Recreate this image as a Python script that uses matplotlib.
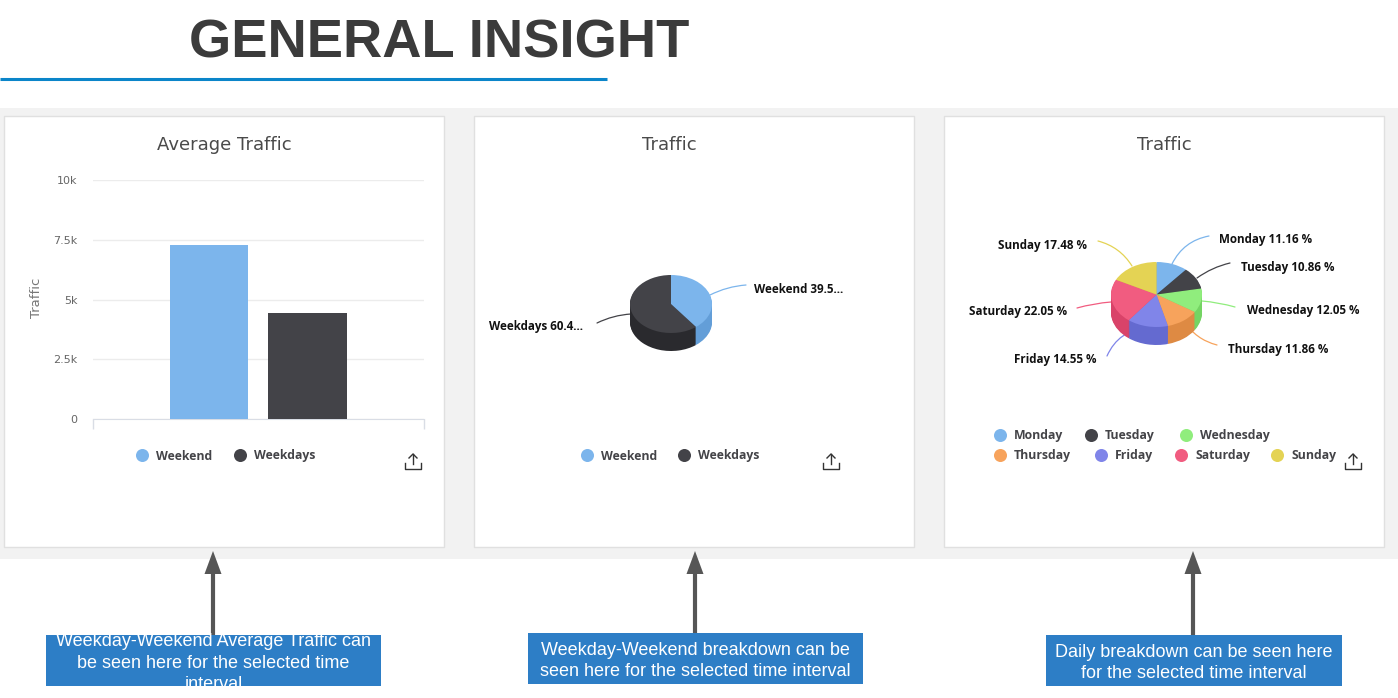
import matplotlib
matplotlib.use("Agg")
import matplotlib.pyplot as plt
from matplotlib.patches import Rectangle, Polygon

W, H = 1398, 698
DPI = 100

page_title = "GENERAL INSIGHT"
bar_categories = ["Weekend", "Weekdays"]
bar_values = [7280, 4440]
y_ticks = [0, 2500, 5000, 7500, 10000]
y_tick_labels = ["0", "2.5k", "5k", "7.5k", "10k"]

split_names = ["Weekend", "Weekdays"]
split_values = [39.55, 60.45]
split_labels = ["Weekend 39.5...", "Weekdays 60.4..."]

day_names = ["Monday", "Tuesday", "Wednesday", "Thursday", "Friday", "Saturday", "Sunday"]
day_values = [11.16, 10.86, 12.05, 11.86, 14.55, 22.05, 17.48]
day_labels = [f"{n} {v:.2f} %" for n, v in zip(day_names, day_values)]

captions = [
    "Weekday-Weekend Average Traffic can\nbe seen here for the selected time\ninterval",
    "Weekday-Weekend breakdown can be\nseen here for the selected time interval",
    "Daily breakdown can be seen here\nfor the selected time interval",
]

TOP = ["#7cb5ec", "#434348", "#90ed7d", "#f7a35c", "#8085e9", "#f15c80", "#e4d354"]
SIDE = ["#639ed8", "#2a2a2e", "#74d463", "#de8a43", "#646ad0", "#d94369", "#cbba3b"]
LABEL_FONT = "DejaVu Sans"
SMALL_FONT = "Open Sans"

fig = plt.figure(figsize=(W / DPI, H / DPI), dpi=DPI, facecolor="white")


def px_axes(x0, y0, x1, y1, zorder=1):
    return fig.add_axes([x0 / W, 1 - y1 / H, (x1 - x0) / W, (y1 - y0) / H], zorder=zorder)


bg = fig.add_axes([0, 0, 1, 1], zorder=0)
bg.set_xlim(0, W)
bg.set_ylim(H, 0)
bg.axis("off")

bg.text(439, 43, page_title, ha="center", va="center", fontsize=39.2, fontweight="bold",
        family="Liberation Sans", color="#3b3b3b")
bg.plot([0, 607], [79, 79], color="#0b85c9", lw=2.2, solid_capstyle="butt")
bg.add_patch(Rectangle((0, 108), W, 451, fc="#f2f2f2", ec="none"))

card_left = [4, 474, 944]
card_titles = ["Average Traffic", "Traffic", "Traffic"]
title_x = [224, 669, 1164]
for x, t, tx in zip(card_left, card_titles, title_x):
    bg.add_patch(Rectangle((x, 116), 440, 431, fc="white", ec="#e0e0e0", lw=1))
    bg.text(tx, 145, t, ha="center", va="center", fontsize=13, family=LABEL_FONT, color="#4a4a4a")


# ---- bar chart ----
ax = px_axes(93, 180, 424, 419)
ax.patch.set_alpha(0)
ax.bar([0, 1], bar_values, width=0.797, color=TOP[:2], zorder=3)
ax.set_xlim(-1.178, 2.183)
ax.set_ylim(0, 10000)
ax.set_yticks(y_ticks, y_tick_labels, fontsize=8, color="#666666", family=LABEL_FONT)
ax.set_xticks([-1.178, 2.183], ["", ""])
ax.tick_params(axis="y", length=0, pad=11)
ax.tick_params(axis="x", length=7, width=1, color="#d9dde5")
ax.grid(axis="y", color="#ececec", lw=1, zorder=0)
for s in ["top", "left", "right"]:
    ax.spines[s].set_visible(False)
ax.spines["bottom"].set_color("#d9dde5")
bg.text(37, 298, "Traffic", rotation=90, ha="center", va="center", fontsize=9.5,
        family=LABEL_FONT, color="#777777")


# ---- 3D-looking pies: stacked darker layers, then the top face ----
def pie3d(values, colors, sides, cx, cy, rx, ry, depth):
    a = px_axes(cx - rx, cy - ry, cx + rx, cy + ry + depth)
    a.patch.set_alpha(0)
    unit = 1 / ry
    for d in range(int(depth), 0, -1):
        a.pie(values, colors=sides, startangle=90, counterclock=False, radius=1,
              center=(0, -d * unit), wedgeprops={"lw": 0}, frame=False)
    a.pie(values, colors=colors, startangle=90, counterclock=False, radius=1,
          center=(0, 0), wedgeprops={"lw": 0}, frame=False)
    a.set_aspect("auto")
    a.set_xlim(-1, 1)
    a.set_ylim(-1 - depth * unit, 1)
    a.axis("off")


pie3d(split_values, TOP[:2], SIDE[:2], 671, 304, 41, 29, 18)
pie3d(day_values, TOP, SIDE, 1156.5, 294.5, 45.5, 32.5, 18.5)


def leader(start, end, color, rad):
    bg.annotate("", xy=end, xytext=start,
                arrowprops=dict(arrowstyle="-", color=color, lw=0.9,
                                connectionstyle=f"arc3,rad={rad}", shrinkA=0, shrinkB=0))


def label(x, y, s, ha="left"):
    bg.text(x, y + 1.5, s, ha=ha, va="center", fontsize=8.4, fontweight="bold",
            family=SMALL_FONT, color="#111111")


# split pie labels
leader((710, 295), (746, 285), TOP[0], -0.1)
leader((631, 314), (597, 323), TOP[1], 0.1)
label(754, 288, split_labels[0])
label(489, 325, split_labels[1])

# daily pie labels
day_leaders = [
    ((1172, 264), (1209, 236), -0.25),
    ((1197, 278), (1230, 263), -0.1),
    ((1202, 301), (1235, 307), -0.05),
    ((1184, 321), (1217, 345), 0.2),
    ((1147, 328), (1107, 356), 0.3),
    ((1111, 302), (1077, 308), 0.05),
    ((1132, 266), (1098, 241), 0.2),
]
label_pos = [(1219, 238, "left"), (1241, 266, "left"), (1247, 309, "left"), (1228, 348, "left"),
             (1096, 358, "right"), (1067, 310, "right"), (1087, 244, "right")]
for i, (s, e, r) in enumerate(day_leaders):
    leader(s, e, TOP[i], r)
    label(label_pos[i][0], label_pos[i][1], day_labels[i], ha=label_pos[i][2])


# ---- legends ----
def legend_item(x, y, name, color):
    bg.scatter([x], [y], s=88, color=color, linewidths=0, zorder=3)
    bg.text(x + 14, y + 1, name, ha="left", va="center", fontsize=8.8, fontweight="bold",
            family=SMALL_FONT, color="#444448")


legend_bar = [(142, 455), (240, 455)]
legend_split = [(587, 455), (684, 455)]
legend_day = [(1000, 435), (1091, 435), (1186, 435), (1000, 455), (1101, 455), (1181, 455), (1277, 455)]
for (x, y), n, c in zip(legend_bar, bar_categories, TOP):
    legend_item(x, y, n, c)
for (x, y), n, c in zip(legend_split, split_names, TOP):
    legend_item(x, y, n, c)
for (x, y), n, c in zip(legend_day, day_names, TOP):
    legend_item(x, y, n, c)


# ---- export icons ----
for x in [413, 831, 1353]:
    y = 461
    bg.plot([x - 8, x - 8, x + 8, x + 8], [y + 2, y + 8, y + 8, y + 2], color="#333333", lw=1)
    bg.plot([x, x], [y + 3, y - 7], color="#333333", lw=1)
    bg.plot([x - 4, x, x + 4], [y - 3, y - 7, y - 3], color="#333333", lw=1)


# ---- arrows and caption boxes ----
arrow_x = [213, 695, 1193]
boxes = [(46, 635, 335, 51), (528, 633, 335, 51), (1046, 635, 296, 51)]
for ax_x, (bx, by, bw, bh), cap in zip(arrow_x, boxes, captions):
    bg.plot([ax_x, ax_x], [by, 572], color="#565656", lw=3, solid_capstyle="butt")
    bg.add_patch(Polygon([(ax_x - 8.5, 574), (ax_x + 8.5, 574), (ax_x, 551)], closed=True,
                         fc="#565656", ec="none"))
    box = Rectangle((bx, by), bw, bh, fc="#2d7ec6", ec="none", zorder=2)
    bg.add_patch(box)
    t = bg.text(bx + bw / 2, by + bh / 2 + 2.5, cap, ha="center", va="center", fontsize=13,
                family="Liberation Sans", color="white", linespacing=1.36, zorder=3)
    t.set_clip_path(box)

fig.savefig("out.png", dpi=DPI)
